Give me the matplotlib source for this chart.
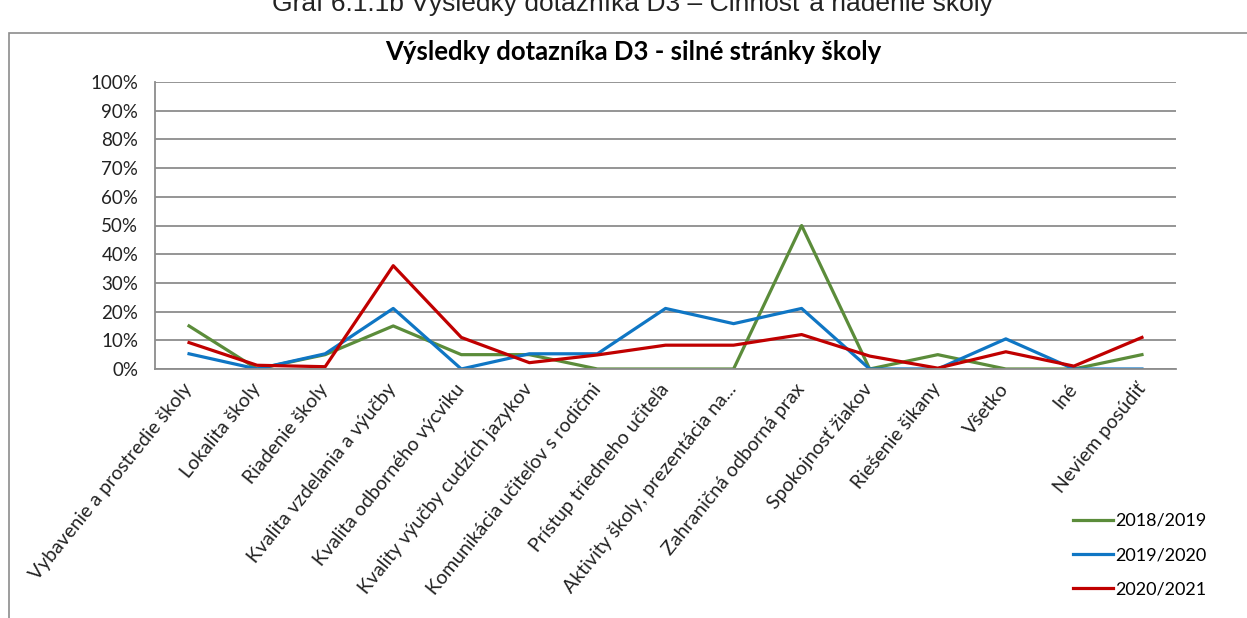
import matplotlib
matplotlib.use("Agg")
import matplotlib.pyplot as plt
from matplotlib.patches import Rectangle

# Data
categories = ["Vybavenie a prostredie školy", "Lokalita školy", "Riadenie školy",
              "Kvalita vzdelania a výučby", "Kvalita odborného výcviku",
              "Kvality výučby cudzích jazykov", "Komunikácia učiteľov s rodičmi",
              "Prístup triedneho učiteľa", "Aktivity školy, prezentácia na...",
              "Zahraničná odborná prax", "Spokojnosť žiakov", "Riešenie šikany",
              "Všetko", "Iné", "Neviem posúdiť"]
y2018 = [15, 0, 5, 15, 5, 5, 0, 0, 0, 50, 0, 5, 0, 0, 5]
y2019 = [5.3, 0, 5.3, 21.1, 0, 5.3, 5.3, 21.1, 15.8, 21.1, 0, 0, 10.5, 0, 0]
y2020 = [9.2, 1.3, 0.8, 36, 11, 2.2, 4.9, 8.3, 8.3, 12, 4.5, 0.3, 6, 1, 11]
series_labels = ["2018/2019", "2019/2020", "2020/2021"]
yticks = list(range(0, 101, 10))

plt.rcParams['font.family'] = ['Lato', 'DejaVu Sans']

fig = plt.figure(figsize=(12.47, 6.18), dpi=100)
W, H = 1247, 618

# outer chart border (cut off on right/bottom)
fig.add_artist(Rectangle((9 / W, -0.1), 1.2, 1.1 - 33 / H, transform=fig.transFigure,
                         fill=False, edgecolor='#8c8c8c', lw=1.2))

# caption, cut at the top edge as in the source
fig.text(632 / W, 1 - 11 / H, "Graf 6.1.1b Výsledky dotazníka D3 – Činnosť a riadenie školy",
         ha='center', va='baseline', fontsize=19, family=['Liberation Sans', 'DejaVu Sans'],
         color='#222222')

fig.text(633 / W, 1 - 52 / H, "Výsledky dotazníka D3 - silné stránky školy",
         ha='center', va='center', fontsize=18.5, fontweight='bold')

ax = fig.add_axes([155 / W, 1 - 369 / H, 1021 / W, 287 / H])
x = list(range(len(categories)))
ax.plot(x, y2018, color='#5b8c3a', lw=2.3, label=series_labels[0])
ax.plot(x, y2019, color='#0f76c4', lw=2.3, label=series_labels[1])
ax.plot(x, y2020, color='#c00000', lw=2.3, label=series_labels[2])

ax.set_xlim(-0.5, len(categories) - 0.5)
ax.set_ylim(0, 100)
ax.set_yticks(yticks)
ax.set_yticklabels([f"{v}%" for v in yticks], fontsize=13.5, color='#222222')
ax.yaxis.grid(True, color='#8c8c8c', lw=1.3)
ax.set_axisbelow(True)
ax.tick_params(axis='y', length=0, pad=12)
for s in ['top', 'right']:
    ax.spines[s].set_visible(False)
ax.spines['left'].set_color('#8c8c8c')
ax.spines['bottom'].set_color('#8c8c8c')
ax.spines['left'].set_linewidth(1.3)
ax.spines['bottom'].set_linewidth(1.3)

ax.set_xticks(x)
ax.set_xticklabels(categories, rotation=51, ha='right', va='center',
                   rotation_mode='anchor', fontsize=14, color='#222222')
ax.tick_params(axis='x', length=0, pad=12)

leg = fig.legend(loc='upper left', bbox_to_anchor=(1073 / W, 1 - 513 / H), frameon=False,
                 fontsize=13, handlelength=2.2, handletextpad=0.15, labelspacing=1.0,
                 borderaxespad=0, borderpad=0)

fig.savefig("out.png", dpi=100)
